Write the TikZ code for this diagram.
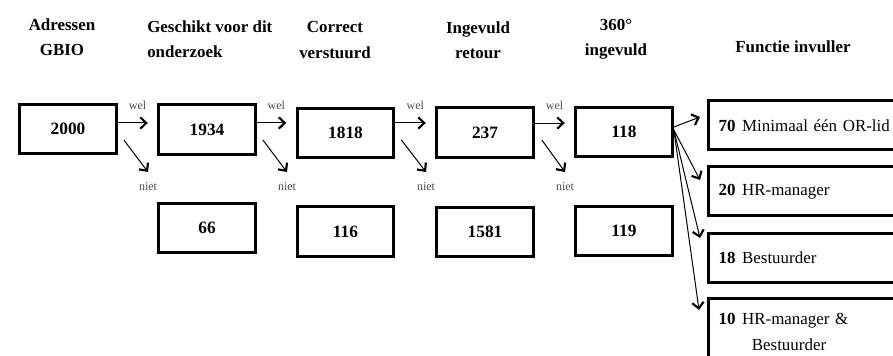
\documentclass[tikz,border=0pt]{standalone}
\usepackage{fontspec}
\setmainfont{Liberation Serif}
\usetikzlibrary{arrows.meta,positioning}

\begin{document}
\begin{tikzpicture}[x=0.75pt,y=-0.75pt,
  every node/.style={inner sep=0pt},
  hdr/.style={font=\bfseries\fontsize{12.7}{19}\selectfont,align=center},
  countbox/.style={draw,line width=2.3pt,minimum width=72.5pt,minimum height=37pt,
    font=\bfseries\fontsize{13}{15}\selectfont},
  rolebox/.style={draw,line width=2.3pt,anchor=north west,minimum height=37pt,
    text width=140pt,inner xsep=7.5pt,align=left,font=\fontsize{12.7}{19}\selectfont},
  yesno/.style={font=\fontsize{9}{10}\selectfont,text=black!70},
  flow/.style={line width=0.75pt,-{Straight Barb[length=4.5pt,width=8.5pt,line width=1.6pt]}}]
  \useasboundingbox (0,0) rectangle (893,356);

  % column headers
  \node[hdr] (hAdr) at (62,37) {Adressen\\GBIO};
  \node[hdr,align=left,anchor=west] (hGes) at (147,39) {Geschikt voor dit\\onderzoek};
  \node[hdr] (hCor) at (335,40) {Correct\\verstuurd};
  \node[hdr] (hIng) at (478,40) {Ingevuld\\retour};
  \node[hdr] (hDeg) at (616,39) {360°\\ingevuld};
  \node[hdr] (hFun) at (793,47) {Functie invuller};

  % counts that go on (top row)
  \node[countbox] (b2000) at (68,129)    {2000};
  \node[countbox] (b1934) at (207,129.5) {1934};
  \node[countbox] (b1818) at (345.5,133) {1818};
  \node[countbox] (b237)  at (485,132.5) {237};
  \node[countbox] (b118)  at (624,132)   {118};

  % counts that drop out (bottom row)
  \node[countbox] (b66)   at (207,228)   {66};
  \node[countbox] (b116)  at (345.5,231.5) {116};
  \node[countbox] (b1581) at (485,232)   {1581};
  \node[countbox] (b119)  at (624,231)   {119};

  % role of the respondent
  \node[rolebox] (f70) at (707,99)  {\textbf{70}\hspace{5pt}Minimaal één OR-lid};
  \node[rolebox] (f20) at (707,165) {\textbf{20}\hspace{5pt}HR-manager};
  \node[rolebox] (f18) at (707,232) {\textbf{18}\hspace{5pt}Bestuurder};
  \node[rolebox,minimum height=50pt] (f10) at (707,297)
    {\textbf{10}\hspace{5pt}HR-manager \&\\\hspace*{25pt}Bestuurder};

  % "niet" labels and the tips of the drop-out arrows
  \node[yesno] (n1) at (148,187) {niet};
  \node[yesno] (n2) at (287,187) {niet};
  \node[yesno] (n3) at (426,187) {niet};
  \node[yesno] (n4) at (565,187) {niet};
  \coordinate (t1) at ([yshift=11.25pt]n1.center);
  \coordinate (t2) at ([yshift=11.25pt]n2.center);
  \coordinate (t3) at ([yshift=11.25pt]n3.center);
  \coordinate (t4) at ([yshift=11.25pt]n4.center);

  % wel: on to the next step
  \draw[flow,shorten >=7pt] ([yshift=4.5pt]b2000.east) coordinate (w1) -- (w1 -| b1934.west)
    node[yesno,pos=0.5,above=10pt] {wel};
  \draw[flow,shorten >=7pt] ([yshift=4.9pt]b1934.east) coordinate (w2) -- (w2 -| b1818.west)
    node[yesno,pos=0.5,above=10pt] {wel};
  \draw[flow,shorten >=7pt] ([yshift=7.5pt]b1818.east) coordinate (w3) -- (w3 -| b237.west)
    node[yesno,pos=0.5,above=10pt] {wel};
  \draw[flow,shorten >=7pt] ([yshift=7.1pt]b237.east) coordinate (w4) -- (w4 -| b118.west)
    node[yesno,pos=0.5,above=10pt] {wel};

  % niet: drop out
  \draw[flow] ([shift={(6,11)}]b2000.east) -- (t1);
  \draw[flow] ([shift={(6,10.5)}]b1934.east) -- (t2);
  \draw[flow] ([shift={(6,7)}]b1818.east) -- (t3);
  \draw[flow] ([shift={(7,7.5)}]b237.east) -- (t4);

  % fan out to the roles
  \draw[flow] ([yshift=3.75pt]b118.east) -- ([shift={(-7,18)}]f70.north west);
  \draw[flow] ([yshift=1.5pt]b118.east) -- ([shift={(-7,15)}]f20.north west);
  \draw[flow] ([yshift=1.5pt]b118.east) -- ([shift={(-7,6)}]f18.north west);
  \draw[flow] ([yshift=1.5pt]b118.east) -- ([shift={(-8,13)}]f10.north west);
\end{tikzpicture}
\end{document}
